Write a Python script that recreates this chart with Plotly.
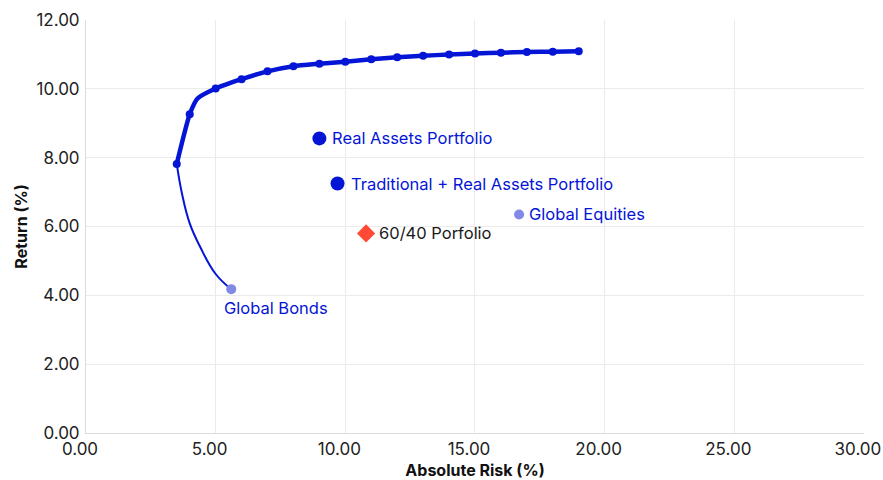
import plotly.graph_objects as go

# Efficient frontier: upper (marked) branch
frontier_risk = [3.5, 4.0, 5.0, 6.0, 7.0, 8.0, 9.0, 10.0, 11.0, 12.0, 13.0, 14.0, 15.0, 16.0, 17.0, 18.0, 19.0]
frontier_ret = [7.82, 9.26, 10.01, 10.28, 10.51, 10.66, 10.73, 10.79, 10.86, 10.92, 10.96, 11.00, 11.03, 11.05, 11.07, 11.08, 11.09]
# extra bend point on the upper branch (no marker)
bend_risk = [4.3]
bend_ret = [9.72]

# Lower branch running down to global bonds
lower_risk = [5.6, 5.0, 4.4, 4.0, 3.7, 3.5]
lower_ret = [4.18, 4.62, 5.41, 6.09, 6.96, 7.82]

# Individual portfolios / assets
point_names = ["Real Assets Portfolio", "Traditional + Real Assets Portfolio", "Global Equities", "60/40 Porfolio", "Global Bonds"]
point_risk = [9.0, 9.7, 16.7, 10.8, 5.6]
point_ret = [8.56, 7.25, 6.35, 5.80, 4.18]

x_ticks = [0, 5, 10, 15, 20, 25, 30]
y_ticks = [0, 2, 4, 6, 8, 10, 12]

BLUE = "#0515d6"
LIGHT = "#8089e6"
RED = "#ff4a36"
FONT = "Inter"

fig = go.Figure()

# thin lower branch
fig.add_trace(go.Scatter(x=lower_risk, y=lower_ret, mode="lines",
                         line=dict(color=BLUE, width=2, shape="spline", smoothing=1.2),
                         hoverinfo="skip", showlegend=False))

# thick upper branch line
up_x = frontier_risk[:2] + bend_risk + frontier_risk[2:]
up_y = frontier_ret[:2] + bend_ret + frontier_ret[2:]
fig.add_trace(go.Scatter(x=up_x, y=up_y, mode="lines",
                         line=dict(color=BLUE, width=4.5, shape="spline", smoothing=0.6),
                         hoverinfo="skip", showlegend=False))
fig.add_trace(go.Scatter(x=frontier_risk, y=frontier_ret, mode="markers",
                         marker=dict(color=BLUE, size=8), showlegend=False))

styles = {
    "Real Assets Portfolio": dict(color=BLUE, size=14, symbol="circle"),
    "Traditional + Real Assets Portfolio": dict(color=BLUE, size=14, symbol="circle"),
    "Global Equities": dict(color=LIGHT, size=10, symbol="circle"),
    "60/40 Porfolio": dict(color=RED, size=14, symbol="diamond"),
    "Global Bonds": dict(color=LIGHT, size=10, symbol="circle"),
}
for name, x, y in zip(point_names, point_risk, point_ret):
    fig.add_trace(go.Scatter(x=[x], y=[y], mode="markers", name=name,
                             marker=dict(line=dict(width=0), **styles[name]),
                             showlegend=False))
    txt_color = "#1a1a1a" if name.startswith("60/40") else BLUE
    if name == "Global Bonds":
        fig.add_annotation(x=x, y=y, text=name, showarrow=False, xanchor="left",
                           yanchor="middle", xshift=-9, yshift=-19,
                           font=dict(family=FONT, size=16.5, color=txt_color))
    else:
        shift = 11 if styles[name]["size"] >= 14 else 8
        fig.add_annotation(x=x, y=y, text=name, showarrow=False, xanchor="left",
                           yanchor="middle", xshift=shift,
                           font=dict(family=FONT, size=16.5, color=txt_color))

axis_common = dict(showgrid=True, gridcolor="#ebebeb", gridwidth=1,
                   showline=True, linecolor="#dcdcdc", linewidth=1,
                   zeroline=False, ticks="", tickformat=".2f",
                   ticklabeloverflow="allow", automargin=False,
                   tickfont=dict(family=FONT, size=17, color="#222"))

fig.update_layout(
    width=883, height=480,
    margin=dict(l=86, r=19, t=20, b=47),
    paper_bgcolor="white", plot_bgcolor="white",
    xaxis=dict(range=[0, 30.001], tickvals=x_ticks, ticklabelstandoff=1,
               ticklabelshift=-6,
               title=dict(text="<b>Absolute Risk (%)</b>", standoff=12,
                          font=dict(family=FONT, size=16, color="#111")),
               **axis_common),
    yaxis=dict(range=[0, 12.001], tickvals=y_ticks, ticklabelstandoff=2,
               title=dict(text="<b>Return (%)</b>", standoff=4,
                          font=dict(family=FONT, size=16, color="#111")),
               **axis_common),
)

fig.write_html("out.html")
